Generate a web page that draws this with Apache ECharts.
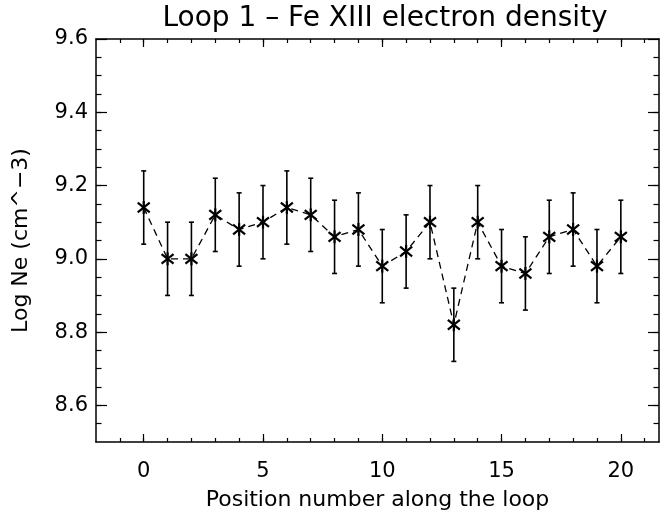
<!DOCTYPE html>
<html>
<head>
<meta charset="utf-8">
<script src="https://cdn.jsdelivr.net/npm/echarts@6/dist/echarts.min.js"></script>
<style>
html,body{margin:0;padding:0;background:#fff;}
#chart{width:662px;height:516px;}
</style>
</head>
<body>
<div id="chart"></div>
<script>
const positions = [0,1,2,3,4,5,6,7,8,9,10,11,12,13,14,15,16,17,18,19,20];
const logNe = [9.14,9.00,9.00,9.12,9.08,9.10,9.14,9.12,9.06,9.08,8.98,9.02,9.10,8.82,9.10,8.98,8.96,9.06,9.08,8.98,9.06];
const errors = [0.10,0.10,0.10,0.10,0.10,0.10,0.10,0.10,0.10,0.10,0.10,0.10,0.10,0.10,0.10,0.10,0.10,0.10,0.10,0.10,0.10];
const xMajorTicks = [0,5,10,15,20];
const xMinorTicks = [-1,0,1,2,3,4,5,6,7,8,9,10,11,12,13,14,15,16,17,18,19,20,21];
const yMajorTicks = [8.6,8.8,9.0,9.2,9.4,9.6];
const yMinorTicks = [8.55,8.6,8.65,8.7,8.75,8.8,8.85,8.9,8.95,9.0,9.05,9.1,9.15,9.2,9.25,9.3,9.35,9.4,9.45,9.5,9.55];
const titleText = 'Loop 1 \u2013 Fe XIII electron density';
const xTitle = 'Position number along the loop';
const yTitle = 'Log Ne (cm^\u22123)';

const FONT = 'DejaVu Sans';
const XMIN = -2, XMAX = 21.6, YMIN = 8.5, YMAX = 9.6;
const lineData = positions.map((p,i)=>[p, logNe[i]]);
const errData = positions.map((p,i)=>[p, logNe[i], errors[i]]);

function xAxisDef(pos, ticks, len, labels, showLine){
  return {
    type:'value', position:pos, min:XMIN, max:XMAX, gridIndex:0,
    axisLine:{show:showLine, onZero:false, lineStyle:{color:'#000', width:1.5}},
    axisTick:{show:true, inside:true, length:len, customValues:ticks, lineStyle:{color:'#000', width:1.2}},
    axisLabel:{show:labels, customValues:ticks, color:'#000', fontFamily:FONT, fontSize:21, margin:19},
    splitLine:{show:false}, minorTick:{show:false}
  };
}
function yAxisDef(pos, ticks, len, labels, showLine){
  return {
    type:'value', position:pos, min:YMIN, max:YMAX, gridIndex:0,
    axisLine:{show:showLine, onZero:false, lineStyle:{color:'#000', width:1.5}},
    axisTick:{show:true, inside:true, length:len, customValues:ticks, lineStyle:{color:'#000', width:1.2}},
    axisLabel:{show:labels, customValues:ticks, color:'#000', fontFamily:FONT, fontSize:21, margin:8,
      formatter:(v)=>v.toFixed(1)},
    splitLine:{show:false}, minorTick:{show:false}
  };
}

const xAxes = [
  xAxisDef('bottom', xMajorTicks, 8, true, true),
  xAxisDef('bottom', xMinorTicks, 4, false, false),
  xAxisDef('top', xMajorTicks, 8, false, true),
  xAxisDef('top', xMinorTicks, 4, false, false)
];
xAxes[0].name = xTitle;
xAxes[0].nameLocation = 'middle';
xAxes[0].nameGap = 47;
xAxes[0].nameTextStyle = {color:'#000', fontFamily:FONT, fontSize:22};

const yAxes = [
  yAxisDef('left', yMajorTicks, 11, true, true),
  yAxisDef('left', yMinorTicks, 5.5, false, false),
  yAxisDef('right', yMajorTicks, 11, false, true),
  yAxisDef('right', yMinorTicks, 5.5, false, false)
];
yAxes[0].name = yTitle;
yAxes[0].nameLocation = 'middle';
yAxes[0].nameGap = 64;
yAxes[0].nameTextStyle = {color:'#000', fontFamily:FONT, fontSize:22};

const chart = echarts.init(document.getElementById('chart'), null, {renderer:'canvas'});
chart.setOption({
  backgroundColor:'#fff',
  animation:false,
  title:{text:titleText, left:380, textAlign:'center', top:0,
    textStyle:{color:'#000', fontFamily:FONT, fontSize:28, fontWeight:'normal'}},
  grid:{left:96, right:3, top:39, bottom:73},
  xAxis:xAxes,
  yAxis:yAxes,
  series:[
    {
      type:'line', data:lineData, xAxisIndex:0, yAxisIndex:0,
      symbol:'none', lineStyle:{color:'#000', width:1.3, type:[7,5]}, z:2
    },
    {
      type:'custom', data:errData, xAxisIndex:0, yAxisIndex:0, z:3,
      encode:{x:0, y:1},
      renderItem:function(params, api){
        const x = api.value(0), y = api.value(1), e = api.value(2);
        const c = api.coord([x,y]);
        const lo = api.coord([x, y - e]);
        const hi = api.coord([x, y + e]);
        const cap = 2.5, s = 6.5;
        const st = {stroke:'#000', lineWidth:1.6};
        const d = 6;
        const ms = {stroke:'#000', lineWidth:2.2};
        return {type:'group', children:[
          {type:'line', shape:{x1:c[0], y1:lo[1], x2:c[0], y2:hi[1]}, style:st},
          {type:'line', shape:{x1:c[0]-cap, y1:lo[1], x2:c[0]+cap, y2:lo[1]}, style:st},
          {type:'line', shape:{x1:c[0]-cap, y1:hi[1], x2:c[0]+cap, y2:hi[1]}, style:st},
          {type:'line', shape:{x1:c[0]-d, y1:c[1]-d*0.8, x2:c[0]+d, y2:c[1]+d*0.8}, style:ms},
          {type:'line', shape:{x1:c[0]-d, y1:c[1]+d*0.8, x2:c[0]+d, y2:c[1]-d*0.8}, style:ms},
          {type:'line', shape:{x1:c[0], y1:c[1]-s, x2:c[0], y2:c[1]+s}, style:ms}
        ]};
      }
    }
  ]
});
</script>
</body>
</html>
